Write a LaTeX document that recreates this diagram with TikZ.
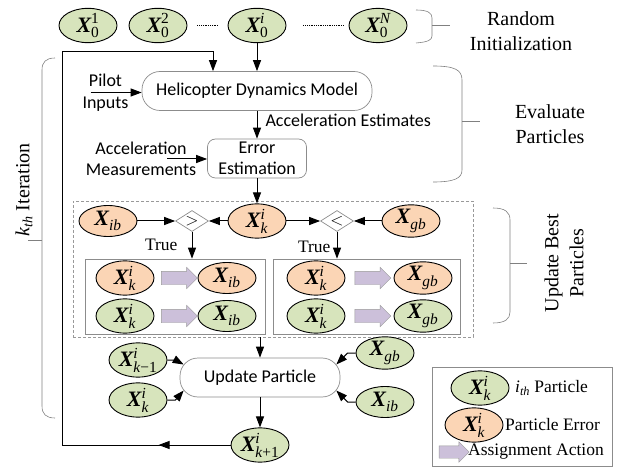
\documentclass[tikz,border=0pt]{standalone}
\usepackage{fontspec}
\usepackage{amsmath}
\setmainfont{Liberation Serif}
\newfontfamily\guisans{Carlito}
\usetikzlibrary{arrows.meta,positioning,shapes.geometric,shapes.arrows,calc,decorations.markings}

\definecolor{pgreenfill}{RGB}{215,228,188}
\definecolor{perrfill}{RGB}{251,213,181}
\definecolor{assignfill}{RGB}{204,192,218}

\newcommand{\pv}[2]{$\text{\bfseries\itshape X}^{\text{\itshape #1}}_{\text{\itshape #2}}$}

\begin{document}
\begin{tikzpicture}[
  x=1pt, y=-1pt,
  part/.style={ellipse, draw, line width=0.9pt, fill=pgreenfill, minimum width=58pt,
               minimum height=31pt, inner sep=0pt, font=\fontsize{22}{24}\selectfont},
  perr/.style={part, fill=perrfill},
  proc/.style={draw=black!45, line width=0.7pt, rounded corners=18pt, minimum height=39pt,
               inner sep=0pt, align=center, font=\guisans\fontsize{18}{21.5}\selectfont},
  cmp/.style={diamond, draw=black!45, line width=0.7pt, aspect=1.6, minimum width=33pt,
              minimum height=21pt, inner sep=0pt, font=\fontsize{17}{17}\selectfont},
  assign/.style={single arrow, draw=black!40, fill=assignfill, minimum height=36pt,
                 inner sep=6.5pt, single arrow head extend=4pt},
  grp/.style={draw=black!45, line width=0.7pt, inner sep=0pt},
  dgrp/.style={draw=black!40, densely dashed, line width=0.6pt, inner sep=0pt},
  brc/.style={draw=black!50, line width=0.6pt},
  arr/.style={-{Triangle[length=11pt,width=8pt]}, line width=1pt},
  slab/.style={inner sep=0pt, align=center, font=\guisans\fontsize{18}{21.5}\selectfont},
  tlab/.style={inner sep=0pt, align=center, font=\fontsize{20}{25}\selectfont},
  lab/.style={inner sep=0pt, font=\fontsize{17.5}{20}\selectfont},
  lgd/.style={lab, anchor=west}
]
\useasboundingbox (0,0) rectangle (626,470);

% ---------------- random initialization ----------------
\node[part] (x01) at (88,25.5) {\pv{\upshape 1}{\upshape 0}};
\node[part] (x02) at (158,25.5) {\pv{\upshape 2}{\upshape 0}};
\node[part] (x0i) at (257,25.5) {\pv{i}{\upshape 0}};
\node[part] (x0N) at (378,25.5) {\pv{N}{\upshape 0}};
\draw[densely dotted, line width=0.8pt] ([xshift=10pt]x02.east) -- ([xshift=-10pt]x0i.west);
\draw[densely dotted, line width=0.8pt] ([xshift=17pt]x0i.east) -- ([xshift=-5pt]x0N.west);

\node[tlab] (rinit) at (521,31) {Random\\Initialization};
\draw[brc] (416,10) .. controls (428,10) and (432,13) .. (432,18) -- (432,36)
  .. controls (432,40) and (428,42) .. (416,43);
\draw[brc] (432,25) -- (450,25);

% ---------------- evaluate particles ----------------
\node[proc, minimum width=230pt] (heli) at (257,91) {Helicopter Dynamics Model};
\node[proc, rounded corners=8pt, minimum width=99pt] (err) at (257,158.5) {Error\\Estimation};
\node[slab] (pilot) at (105.5,92.5) {Pilot\\Inputs};
\node[slab] (meas) at (141,159) {Acceleration\\Measurements};

\draw[arr] (x0i.south) -- (heli.north);
\draw[arr] ([xshift=-15pt]pilot.center) -- (pilot.center -| heli.west);
\draw[arr] (heli.south) -- node[slab, anchor=west, xshift=8pt, yshift=4pt] (accest)
  {Acceleration Estimates} (err.north);
\draw[arr] ([xshift=26pt]meas.center) -- (meas.center -| err.west);

\node[tlab] (evalp) at (550,124.5) {Evaluate\\Particles};
\draw[brc] (433,66) .. controls (455,66) and (462,70) .. (462,80) -- (462,170)
  .. controls (462,178) and (455,182) .. (433,182);
\draw[brc] (462,121) -- (480,121);

% ---------------- update best particles ----------------
\node[dgrp, minimum width=400pt, minimum height=136pt] (best) at (273,269) {};
\node[grp, minimum width=180pt, minimum height=75pt] (lbox) at (175,296.5) {};
\node[grp, minimum width=187pt, minimum height=75pt] (rbox) at (366.5,296.5) {};

\node[perr] (xib) at (108,221) {\pv{}{ib}};
\node[cmp] (gt) at (192,221) {$>$};
\node[perr] (xki) at (257,221) {\pv{i}{k}};
\node[cmp] (lt) at (337,221) {$<$};
\node[perr] (xgb) at (411,221) {\pv{}{gb}};

\draw[arr] (err.south) -- (xki.north);
\draw[arr] (xib) -- (gt);
\draw[arr] (xki) -- (gt);
\draw[arr] (xki) -- (lt);
\draw[arr] (xgb) -- (lt);
\draw[arr] (gt.south) -- node[lab, left=14pt] {True} (gt.south |- lbox.north);
\draw[arr] (lt.south) -- node[lab, left=6pt, yshift=-2pt] {True} (lt.south |- rbox.north);

\node[perr] (lkE) at (125,278) {\pv{i}{k}};
\node[perr] (libE) at (227,278) {\pv{}{ib}};
\node[part] (lkP) at (125,316) {\pv{i}{k}};
\node[part] (libP) at (227,316) {\pv{}{ib}};
\node[assign] at ($(lkE.east)!0.5!(libE.west)$) {};
\node[assign] at ($(lkP.east)!0.5!(libP.west)$) {};

\node[perr] (rkE) at (316,278) {\pv{i}{k}};
\node[perr] (rgbE) at (423,278) {\pv{}{gb}};
\node[part] (rkP) at (316,316) {\pv{i}{k}};
\node[part] (rgbP) at (423,316) {\pv{}{gb}};
\node[assign] at ($(rkE.east)!0.5!(rgbE.west)$) {};
\node[assign] at ($(rkP.east)!0.5!(rgbP.west)$) {};

\node[tlab, rotate=90] (updb) at (564,263) {Update Best\\Particles};
\draw[brc] (493,208) .. controls (505,208) and (510,212) .. (510,220) -- (510,312)
  .. controls (510,319) and (505,323) .. (493,323);
\draw[brc] (510,263) -- (527,263);

% ---------------- update particle ----------------
\node[proc, minimum width=160pt] (upd) at (260,377.5) {Update Particle};
\node[part] (xkm1) at (138,360) {\pv{i}{k\upshape\textminus1}};
\node[part] (xkc) at (138,400) {\pv{i}{k}};
\node[part] (xgbu) at (385,353) {\pv{}{gb}};
\node[part] (xibu) at (385,402) {\pv{}{ib}};
\node[part] (xk1) at (260,445) {\pv{i}{k\upshape+1}};

\draw[arr] (upd.north |- best.south) -- (upd.north);
\draw[arr] (xkm1.east) -- ++(8,0) -- ([xshift=4pt,yshift=13pt]upd.west);
\draw[arr] (xkc.east) -- ++(8,0) -- ([xshift=4pt,yshift=-13pt]upd.west);
\draw[arr] (xgbu.west) -- ++(-8,0) -- ([xshift=-4pt,yshift=13pt]upd.east);
\draw[arr] (xibu.west) -- ++(-8,0) -- ([xshift=-4pt,yshift=-13pt]upd.east);
\draw[arr] (upd.south) -- (xk1.north);

% loop back to the model
\coordinate (lpb) at (62,445);
\coordinate (lpt) at (62,52);
\draw[arr, postaction={decorate}, decoration={markings,
  mark=at position 72pt with {\arrow{Triangle[length=11pt,width=8pt]}}}]
  (xk1.west) -- (lpb) -- (lpt) -| ([xshift=-44pt]heli.north);

\node[tlab, rotate=90] (kiter) at (24,190) {\textit{k}\textsubscript{\textit{th}} Iteration};
\draw[brc] (55,58) .. controls (46,58) and (42,62) .. (42,70) -- (42,406)
  .. controls (42,414) and (46,418) .. (55,418);
\draw[brc] (42,240) -- (28,240);

% ---------------- legend ----------------
\node[grp, minimum width=180pt, minimum height=99pt] (lgdbox) at (522,416.5) {};
\node[part] (lgdP) at (480,388) {\pv{i}{k}};
\node[lgd] (lgdPt) at (515,388) {\textit{i}\textsubscript{\textit{th}} Particle};
\node[perr] (lgdE) at (474,425) {\pv{i}{k}};
\node[lgd] (lgdEt) at (505,425) {Particle Error};
\node[assign, minimum height=30pt, inner sep=6pt] (lgdA) at (451,452) {};
\node[lgd] (lgdAt) at (468,452) {Assignment Action};

\end{tikzpicture}
\end{document}
